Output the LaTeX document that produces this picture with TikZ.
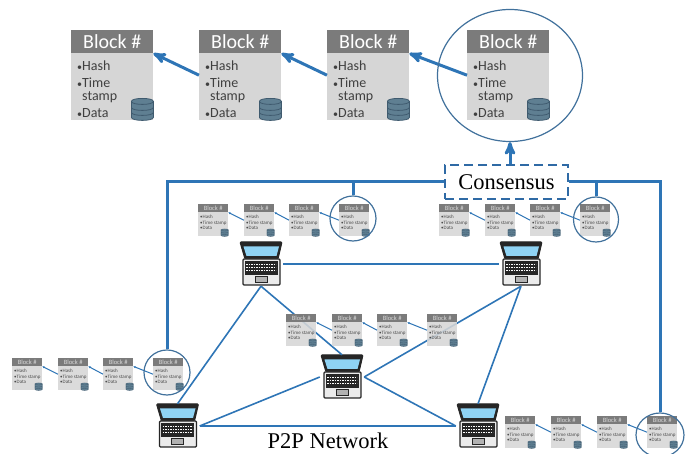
\documentclass[tikz,border=0pt]{standalone}
\usepackage{fontspec}
\setmainfont{Liberation Serif}
\newfontfamily\blockfont{Carlito}
\usetikzlibrary{arrows, arrows.meta, shapes.geometric}

\definecolor{linkblue}{HTML}{2E75B6}
\definecolor{ringblue}{HTML}{41719C}
\definecolor{dashblue}{HTML}{2F6AA5}
\definecolor{headgray}{HTML}{7B7B7B}
\definecolor{bodygray}{HTML}{D6D6D6}
\definecolor{dbfill}{HTML}{5F7F92}
\definecolor{dbline}{HTML}{3F5A6E}
\definecolor{screenblue}{HTML}{8FD3F4}

\tikzset{
  bigbody/.style={rectangle, fill=bodygray, minimum width=82pt, minimum height=90pt,
                  inner sep=0pt, anchor=north west},
  bighead/.style={rectangle, fill=headgray, text=white, minimum width=82pt, minimum height=23pt,
                  inner sep=0pt, anchor=north west, font=\blockfont\fontsize{20}{20}\selectfont},
  bigtext/.style={inner sep=0pt, anchor=north west, align=left, text=black!75,
                  font=\blockfont\fontsize{14}{13.5}\selectfont},
  smallbody/.style={rectangle, fill=bodygray, fill opacity=.88, minimum width=30pt, minimum height=32pt,
                  inner sep=0pt, anchor=north west},
  smallhead/.style={rectangle, fill=headgray, text=white!85!black, minimum width=30pt, minimum height=8pt,
                  inner sep=0pt, anchor=north west, font=\blockfont\fontsize{6.5}{6.5}\selectfont},
  smalltext/.style={inner sep=0pt, anchor=north west, align=left, text=black!70,
                  font=\blockfont\fontsize{5}{5.6}\selectfont},
  ringnode/.style={ellipse, draw=ringblue, line width=1.2pt, inner sep=0pt},
  lapbox/.style={rectangle, minimum width=44pt, minimum height=44pt, inner sep=0pt},
  biglink/.style={->, >=stealth', draw=linkblue, line width=3pt},
  feedlink/.style={draw=linkblue, line width=3pt},
  smalllink/.style={-{Stealth[length=2.2pt,width=2.2pt]}, draw=linkblue, line width=1pt},
  netlink/.style={draw=linkblue, line width=1.6pt}
}

% database icon sitting in the lower right corner of a block
\newcommand{\dbicon}[3]{
  \begin{scope}[shift={(#1)}, scale=#2, shift={(-11,-11)}, line width=#3]
    \filldraw[fill=dbfill, draw=dbline] (-11,-8) -- (-11,8) .. controls (-11,12) and (11,12) .. (11,8)
        -- (11,-8) .. controls (11,-12) and (-11,-12) .. cycle;
    \draw[dbline] (-11,-8) .. controls (-11,-4) and (11,-4) .. (11,-8);
    \draw[dbline] (-11,-2) .. controls (-11,2) and (11,2) .. (11,-2);
    \draw[dbline] (-11,3) .. controls (-11,7) and (11,7) .. (11,3);
  \end{scope}
}

\newcommand{\bigblock}[3]{
  \node[bigbody] (#1) at (#2,#3) {};
  \node[bighead] (#1-h) at (#1.north west) {Block \#};
  \node[bigtext] (#1-t) at ([xshift=6pt,yshift=-7pt]#1-h.south west)
    {{\fontsize{10}{10}\selectfont•}Hash\\[3.2pt]{\fontsize{10}{10}\selectfont•}Time\\\hspace*{5pt}stamp\\[3.2pt]{\fontsize{10}{10}\selectfont•}Data};
  \dbicon{#1.south east}{1}{.8pt}
}

\newcommand{\smallblock}[3]{
  \node[smallbody] (#1) at (#2,#3) {};
  \node[smallhead] (#1-h) at (#1.north west) {Block \#};
  \node[smalltext] (#1-t) at ([xshift=2pt,yshift=-2.5pt]#1-h.south west)
    {•Hash\\•Time stamp\\•Data};
  \dbicon{#1.south east}{.34}{.3pt}
}

\newcommand{\laptop}[3]{
  \node[lapbox] (#1) at (#2,#3) {};
  \begin{scope}[shift={(#1.center)}]
    \filldraw[fill=black!85, draw=black!85, line width=1pt, rounded corners=1pt]
        (-21,-22) -- (21,-22) -- (17,-5) -- (-16,-5) -- cycle;
    \fill[screenblue] (-17.5,-17.5) -- (18,-17.5) -- (15.5,-8) -- (-14.5,-8) -- cycle;
    \filldraw[fill=black!8, draw=black!85, line width=1.4pt, rounded corners=1pt]
        (-18,-5) rectangle (19,21);
    \filldraw[fill=black!85, draw=black!85, line width=.5pt] (-16,-2.5) rectangle (16,10);
    \foreach \yk in {0.5,3.5,6.5}
      \draw[white, line width=.9pt, dash pattern=on 1.6pt off .9pt] (-15,\yk) -- (15,\yk);
    \filldraw[fill=black!30, draw=black!85, line width=.9pt] (-6,12) rectangle (6,18.5);
  \end{scope}
}

\begin{document}
\begin{tikzpicture}[x=1pt, y=-1pt]
    \useasboundingbox (0,0) rectangle (686,454);

    \laptop{lapA}{261}{264}
    \laptop{lapB}{521}{264}
    \laptop{lapC}{342}{377}
    \laptop{lapD}{177.5}{426}
    \laptop{lapE}{478}{426}

    \draw[netlink] (lapA.east) -- (lapB.west);
    \draw[netlink] (lapA.south) -- (lapD.north);
    \draw[netlink] (lapA.south) -- (lapC.north);
    \draw[netlink] (lapB.south) -- (lapC.east);
    \draw[netlink] (lapB.south) -- (lapE.north);
    \draw[netlink] (lapC.west) -- (lapD.east);
    \draw[netlink] (lapC.east) -- (lapE.west);
    \draw[netlink] (lapD.east) -- (lapE.west);

    \bigblock{mainA}{71}{30}
    \bigblock{mainB}{199}{30}
    \bigblock{mainC}{327}{30}
    \bigblock{mainD}{467}{30}
    \draw[biglink] (mainB.west) -- (mainA-h.south east);
    \draw[biglink] (mainC.west) -- (mainB-h.south east);
    \draw[biglink] (mainD.west) -- (mainC-h.south east);

    % one ledger copy per laptop
    \foreach \row/\xa/\xb/\xc/\xd/\yy in {rowA/198/244/289/339/204, rowB/439/485/530/580/204,
        rowC/286/332/377/427/314, rowD/12/58/103/153/358, rowE/505/551/597/647/416}{
      \smallblock{\row a}{\xa}{\yy}
      \smallblock{\row b}{\xb}{\yy}
      \smallblock{\row c}{\xc}{\yy}
      \smallblock{\row d}{\xd}{\yy}
      \draw[smalllink] (\row b.west) -- (\row a-h.south east);
      \draw[smalllink] (\row c.west) -- (\row b-h.south east);
      \draw[smalllink] (\row d.west) -- (\row c-h.south east);
    }

    \node[ringnode, minimum width=145pt, minimum height=132pt] (ringMain) at (510,75.5) {};
    \node[ringnode, minimum width=46pt, minimum height=45pt] (ringA) at (353,218.5) {};
    \node[ringnode, minimum width=45pt, minimum height=45pt] (ringB) at (596,219.5) {};
    \node[ringnode, minimum width=46pt, minimum height=45pt] (ringD) at (167,372.5) {};
    \node[ringnode, minimum width=48pt, minimum height=44pt] (ringE) at (660,435) {};

    \node[rectangle, draw=dashblue, dash pattern=on 9pt off 5pt, line width=2.6pt,
          minimum width=123pt, minimum height=34pt, inner sep=0pt,
          font=\fontsize{22.5}{22.5}\selectfont] (cons) at (506.5,182) {Consensus};

    \draw[biglink] (cons.north -| ringMain.south) -- (ringMain.south);
    \draw[feedlink] (cons.west) -| (ringD.north);
    \draw[feedlink] (ringA.north |- cons.west) -- (ringA.north);
    \draw[feedlink] (ringB.north |- cons.east) -- (ringB.north);
    \draw[feedlink] (cons.east) -| (ringE.north);

    \node[font=\fontsize{22.5}{22.5}\selectfont] (p2p) at (328,441) {P2P Network};
\end{tikzpicture}
\end{document}
